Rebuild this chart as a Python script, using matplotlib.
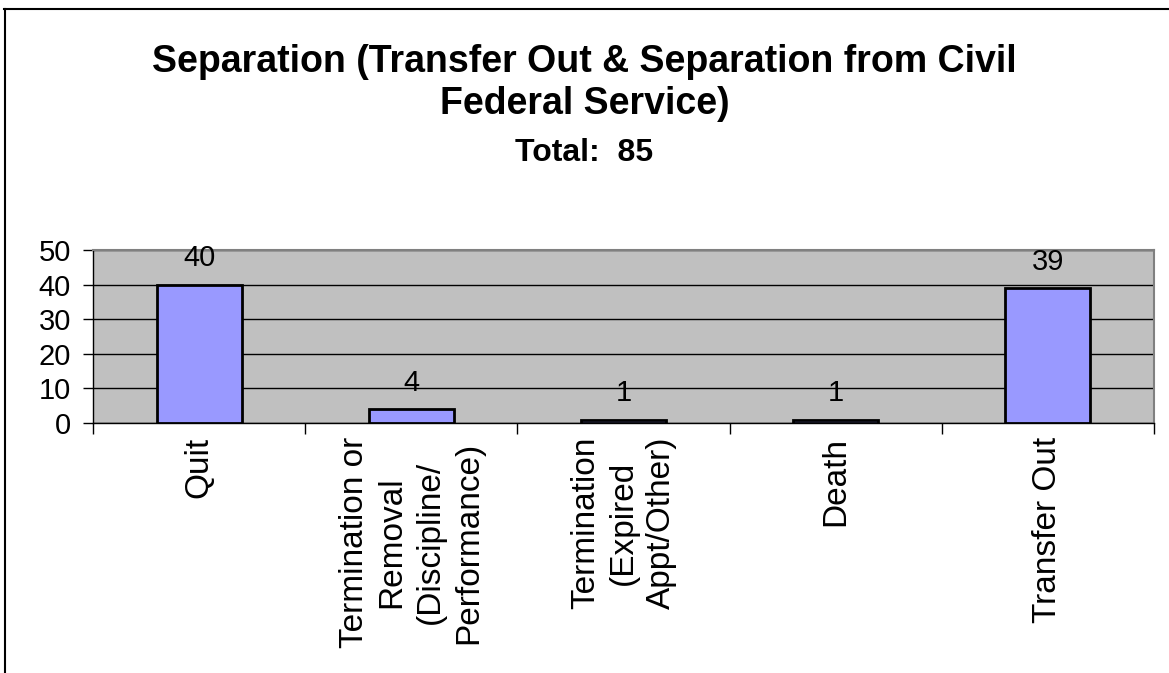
import numpy as np
import matplotlib.pyplot as plt
from matplotlib.lines import Line2D

plt.rcParams['font.family'] = ['Liberation Sans', 'DejaVu Sans']

categories = ["Quit", "Termination or\nRemoval\n(Discipline/\nPerformance)",
              "Termination\n(Expired\nAppt/Other)", "Death", "Transfer Out"]
counts = [40, 4, 1, 1, 39]
yticks = [0, 10, 20, 30, 40, 50]

fig = plt.figure(figsize=(11.69, 6.73), dpi=100)
ax = fig.add_axes([93 / 1169, 1 - 423 / 673, (1154 - 93) / 1169, (423 - 250) / 673])
ax.set_facecolor('#C0C0C0')

x = np.arange(len(categories))
bars = ax.bar(x, counts, width=0.4, color='#9999FF', edgecolor='black', linewidth=2, zorder=3)
for xi, v in zip(x, counts):
    ax.annotate(str(v), (xi, v), xytext=(0, 9), textcoords='offset points',
                ha='center', va='bottom', fontsize=21, zorder=4)

ax.set_xlim(-0.5, len(categories) - 0.5)
ax.set_ylim(0, 50)
ax.set_yticks(yticks)
ax.set_yticklabels([str(t) for t in yticks], fontsize=21)
ax.yaxis.grid(True, color='black', linewidth=1, zorder=1)
ax.set_axisbelow(True)

ax.set_xticks(x)
ax.set_xticklabels(categories, rotation=90, fontsize=24, ha='center', va='top',
                   multialignment='center', linespacing=1.3)
ax.set_xticks(np.arange(-0.5, len(categories)), minor=True)
ax.tick_params(axis='x', which='major', length=0, pad=10)
ax.tick_params(axis='x', which='minor', length=8, width=1, color='black')
ax.tick_params(axis='y', length=7, width=1, pad=9)

for side in ['top', 'right']:
    ax.spines[side].set_color('#808080')
    ax.spines[side].set_linewidth(1.5)
for side in ['left', 'bottom']:
    ax.spines[side].set_color('black')
    ax.spines[side].set_linewidth(1)

fig.text(0.5, 1 - 83 / 673, "Separation (Transfer Out & Separation from Civil\nFederal Service)",
         ha='center', va='center', fontsize=27, fontweight='bold', linespacing=1.25)
fig.text(0.5, 1 - 153 / 673, "Total:  85", ha='center', va='center', fontsize=23, fontweight='bold')

fig.add_artist(Line2D([5 / 1169, 5 / 1169], [0, 1 - 9 / 673], color='black', linewidth=1.5,
                      transform=fig.transFigure))
fig.add_artist(Line2D([4 / 1169, 1], [1 - 9 / 673, 1 - 9 / 673], color='black', linewidth=1.5,
                      transform=fig.transFigure))

fig.savefig('out.png', dpi=100)
